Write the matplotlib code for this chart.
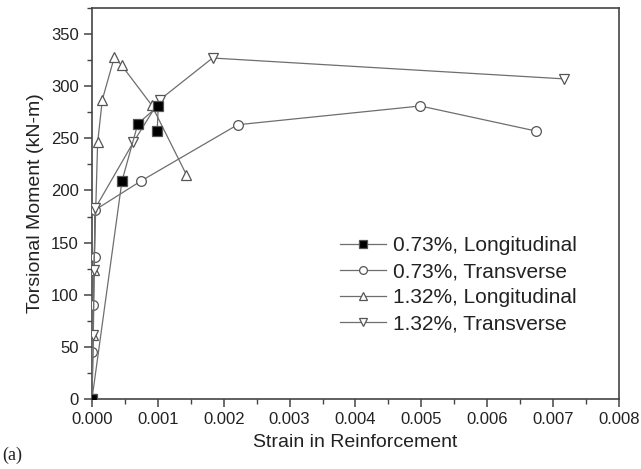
import matplotlib
matplotlib.use('Agg')
import matplotlib.pyplot as plt
from matplotlib.ticker import MultipleLocator, FormatStrFormatter

# 0.73%, Longitudinal
long073_x = [0.0, 0.000455, 0.000697, 0.001005, 0.00099]
long073_y = [0, 209, 264, 281, 257]
# 0.73%, Transverse
trans073_x = [0.0, 0.000005, 0.00002, 0.00004, 0.00004, 0.000742, 0.00221, 0.004985, 0.006738]
trans073_y = [0, 45, 90, 136, 181, 209, 263, 281, 257]
# 1.32%, Longitudinal
long132_x = [0.0, 0.00002, 0.00003, 0.000086, 0.000157, 0.00034, 0.00045, 0.000904, 0.001434]
long132_y = [0, 61, 124, 246, 287, 328, 320, 282, 215]
# 1.32%, Transverse
trans132_x = [0.0, 0.00002, 0.00003, 0.00005, 0.000626, 0.00103, 0.00183, 0.007167]
trans132_y = [0, 61, 124, 183, 246, 287, 327, 307]

LINE = '#6e6e6e'
EDGE = '#555555'

plt.rcParams['font.family'] = ['Liberation Sans', 'DejaVu Sans']

fig = plt.figure(figsize=(6.41, 4.69), dpi=100)
ax = fig.add_axes([0.1435, 0.1493, 0.8222, 0.8337])

common = dict(color=LINE, lw=0.9, markersize=7, markeredgecolor=EDGE, markeredgewidth=0.9)
ax.plot(long073_x, long073_y, marker='s', markerfacecolor='black', markersize=6.5,
        **{k: v for k, v in common.items() if k != 'markersize'},
        label='0.73%, Longitudinal', zorder=4)
ax.plot(trans073_x, trans073_y, marker='o', markerfacecolor='white', **common,
        label='0.73%, Transverse', zorder=3)
ax.plot(long132_x, long132_y, marker='^', markerfacecolor='white', **common,
        label='1.32%, Longitudinal', zorder=3)
ax.plot(trans132_x, trans132_y, marker='v', markerfacecolor='white', **common,
        label='1.32%, Transverse', zorder=3)

ax.set_xlim(0, 0.008)
ax.set_ylim(0, 375)
ax.xaxis.set_major_locator(MultipleLocator(0.001))
ax.xaxis.set_minor_locator(MultipleLocator(0.0005))
ax.xaxis.set_major_formatter(FormatStrFormatter('%.3f'))
ax.yaxis.set_major_locator(MultipleLocator(50))
ax.yaxis.set_minor_locator(MultipleLocator(25))

for s in ax.spines.values():
    s.set_color('#444444')
    s.set_linewidth(1.2)
ax.tick_params(which='major', direction='out', length=6, width=1.1, color='#444444',
               labelsize=12, labelcolor='#222222')
ax.tick_params(which='minor', direction='out', length=3.5, width=1.0, color='#444444')

ax.set_xlabel('Strain in Reinforcement', fontsize=14, color='#222222', labelpad=5)
ax.set_ylabel('Torsional Moment (kN-m)', fontsize=14, color='#222222', labelpad=5)

leg = ax.legend(loc='upper left', bbox_to_anchor=(0.471, 0.417), frameon=False,
                fontsize=15, handlelength=2.2, handletextpad=0.35, labelspacing=0.34,
                borderaxespad=0, borderpad=0, markerscale=0.8)
for t in leg.get_texts():
    t.set_color('#222222')

fig.text(0.004, 0.02, '(a)', fontsize=13, family='Liberation Serif', color='#222222')

fig.savefig('out.png', dpi=100)
